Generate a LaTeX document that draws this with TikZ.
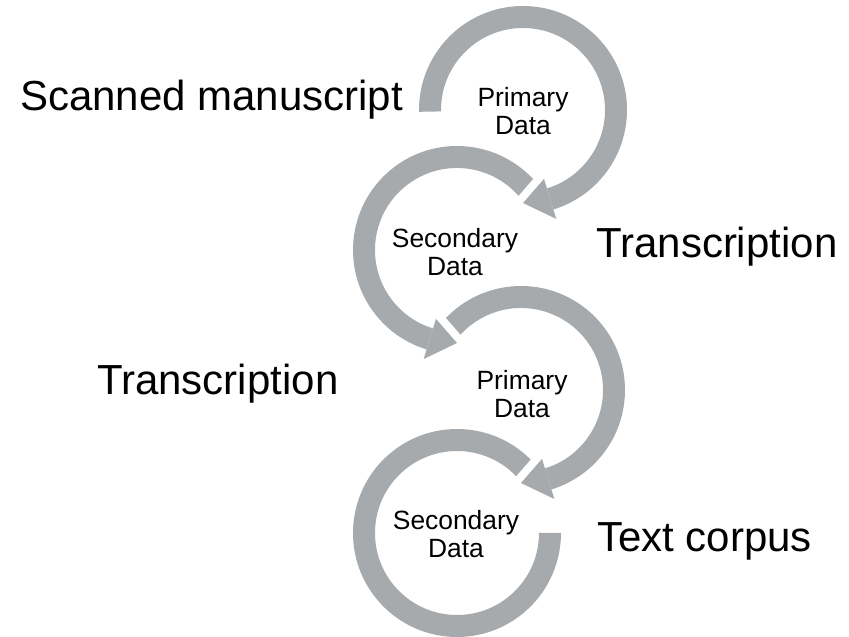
\documentclass[tikz,border=0pt]{standalone}
\usepackage{fontspec}
\setmainfont{Liberation Sans}
\usetikzlibrary{calc}
\definecolor{arcgray}{RGB}{166,170,173}
\newcommand\bandfill[3]{\fill[arcgray] ($(#1)+(#2:104pt)$) arc[start angle=#2, end angle=#3, radius=104pt] -- ($(#1)+(#3:82pt)$) arc[start angle=#3, end angle=#2, radius=82pt] -- cycle;}
\newcommand\headgap[3]{\draw[white, line width=16pt, line join=round] ($(#1)+(#2:72pt)$) -- ($(#1)+(#2:114pt)$) -- ($(#1)+(#3:93pt)$) -- cycle;}
\newcommand\headfill[3]{\fill[arcgray] ($(#1)+(#2:72pt)$) -- ($(#1)+(#2:114pt)$) -- ($(#1)+(#3:93pt)$) -- cycle;}
\tikzset{
  bigtext/.style={inner sep=0pt, anchor=base west, font=\fontsize{42}{50}\selectfont},
  smalltext/.style={inner sep=0pt, align=center, font=\fontsize{26.4}{27.5}\selectfont}
}
\begin{document}
\begin{tikzpicture}[x=1pt,y=1pt]
\useasboundingbox (0,0) rectangle (849,637);
\coordinate (c1) at (523,527);
\coordinate (c2) at (457,387);
\coordinate (c3) at (521,247);
\coordinate (c4) at (457,104);
% circle 4
\bandfill{c4}{40}{360}
% circle 3
\headgap{c3}{-73}{-90}
\bandfill{c3}{140}{-73}
\headfill{c3}{-73}{-90}
% circle 2
\headgap{c2}{253}{270}
\bandfill{c2}{40}{253}
\headfill{c2}{253}{270}
% circle 1
\headgap{c1}{-73}{-90}
\bandfill{c1}{181}{-73}
\headfill{c1}{-73}{-90}
% labels
\node[bigtext] (scan) at (20,526) {Scanned manuscript};
\node[bigtext] (tr1) at (596,379) {Transcription};
\node[bigtext] (tr2) at (97,242) {Transcription};
\node[bigtext] (corpus) at (597,85) {Text corpus};
\node[smalltext] (p1) at (523,526) {Primary\\Data};
\node[smalltext] (s2) at (455,385) {Secondary\\Data};
\node[smalltext] (p3) at (522,243) {Primary\\Data};
\node[smalltext] (s4) at (456,103) {Secondary\\Data};
\end{tikzpicture}
\end{document}
